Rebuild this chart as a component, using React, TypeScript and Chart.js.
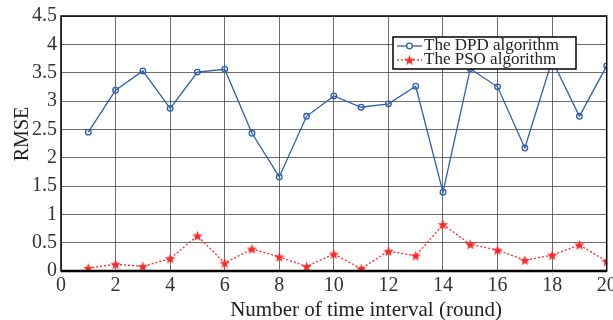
import React, { useEffect, useRef } from "react";
import { Chart, registerables } from "chart.js";

Chart.register(...registerables);

const rounds = [1, 2, 3, 4, 5, 6, 7, 8, 9, 10, 11, 12, 13, 14, 15, 16, 17, 18, 19, 20];
const dpdValues = [2.45, 3.19, 3.53, 2.87, 3.51, 3.56, 2.43, 1.66, 2.73, 3.09, 2.89, 2.95, 3.26, 1.39, 3.57, 3.25, 2.17, 3.72, 2.73, 3.62];
const psoValues = [0.05, 0.12, 0.08, 0.22, 0.62, 0.14, 0.39, 0.25, 0.08, 0.3, 0.04, 0.35, 0.27, 0.82, 0.47, 0.37, 0.19, 0.28, 0.46, 0.17];
const seriesNames = ["The DPD algorithm", "The PSO algorithm"];
const xTitle = "Number of time interval (round)";
const yTitle = "RMSE";

const BLUE = "#2c5fad";
const RED = "#ff2626";
const FONT = "'Liberation Serif', 'DejaVu Serif', serif";

function makeStar(size: number, color: string) {
  const c = document.createElement("canvas");
  c.width = size;
  c.height = size;
  const ctx = c.getContext("2d")!;
  const cx = size / 2, cy = size / 2 + 0.5;
  const R = size / 2, r = R * 0.42;
  ctx.beginPath();
  for (let i = 0; i < 10; i++) {
    const rad = i % 2 === 0 ? R : r;
    const a = -Math.PI / 2 + (i * Math.PI) / 5;
    const x = cx + rad * Math.cos(a);
    const y = cy + rad * Math.sin(a);
    if (i === 0) ctx.moveTo(x, y);
    else ctx.lineTo(x, y);
  }
  ctx.closePath();
  ctx.fillStyle = color;
  ctx.fill();
  return c;
}

export default function App() {
  const ref = useRef<HTMLCanvasElement>(null);
  useEffect(() => {
    document.body.style.margin = "0";
    const star = makeStar(11, RED);
    const frame = {
      id: "frame",
      afterDatasetsDraw(chart: any) {
        const { ctx, chartArea: a } = chart;
        ctx.save();
        ctx.strokeStyle = "#000";
        ctx.lineWidth = 1.5;
        ctx.strokeRect(a.left, a.top, a.right - a.left, a.bottom - a.top);
        ctx.lineWidth = 2.5;
        ctx.beginPath();
        ctx.moveTo(a.left, a.bottom);
        ctx.lineTo(a.right, a.bottom);
        ctx.stroke();
        // axis titles
        ctx.fillStyle = "#222";
        ctx.font = `21px ${FONT}`;
        ctx.textAlign = "center";
        ctx.textBaseline = "alphabetic";
        ctx.fillText(xTitle, a.left + 305, 316);
        ctx.save();
        ctx.translate(28, a.top + 118);
        ctx.rotate(-Math.PI / 2);
        ctx.font = `20px ${FONT}`;
        ctx.fillText(yTitle, 0, 0);
        ctx.restore();
        // legend
        ctx.textAlign = "left";
        const lx = a.left + 332, ly = a.top + 21, lw = 183, lh = 32;
        ctx.fillStyle = "#fff";
        ctx.fillRect(lx, ly, lw, lh);
        ctx.strokeStyle = "#000";
        ctx.lineWidth = 1.5;
        ctx.strokeRect(lx, ly, lw, lh);
        ctx.font = `17px ${FONT}`;
        ctx.textBaseline = "middle";
        const y1 = ly + 9, y2 = ly + 23;
        ctx.strokeStyle = BLUE;
        ctx.lineWidth = 1.3;
        ctx.beginPath();
        ctx.moveTo(lx + 4, y1);
        ctx.lineTo(lx + 29, y1);
        ctx.stroke();
        ctx.beginPath();
        ctx.arc(lx + 16.5, y1, 2.8, 0, Math.PI * 2);
        ctx.fillStyle = "#fff";
        ctx.fill();
        ctx.stroke();
        ctx.strokeStyle = RED;
        ctx.setLineDash([2, 2]);
        ctx.beginPath();
        ctx.moveTo(lx + 4, y2);
        ctx.lineTo(lx + 29, y2);
        ctx.stroke();
        ctx.setLineDash([]);
        ctx.drawImage(star, lx + 11, y2 - 5.5);
        ctx.fillStyle = "#222";
        ctx.fillText(seriesNames[0], lx + 31, y1);
        ctx.fillText(seriesNames[1], lx + 31, y2);
        ctx.restore();
      },
    };
    const chart = new Chart(ref.current!, {
      type: "line",
      data: {
        labels: rounds,
        datasets: [
          {
            label: seriesNames[0],
            data: rounds.map((x, i) => ({ x, y: dpdValues[i] })),
            borderColor: BLUE,
            borderWidth: 1.3,
            pointRadius: 2.8,
            pointBorderWidth: 1.3,
            pointBackgroundColor: "rgba(255,255,255,0)",
            pointBorderColor: BLUE,
            tension: 0,
          },
          {
            label: seriesNames[1],
            data: rounds.map((x, i) => ({ x, y: psoValues[i] })),
            borderColor: RED,
            borderWidth: 1.3,
            borderDash: [2, 2],
            pointStyle: star as any,
            pointRadius: 5,
            tension: 0,
          },
        ],
      },
      plugins: [frame],
      options: {
        animation: false,
        responsive: false,
        layout: { padding: { top: 16, right: 6, left: 0, bottom: 0 } },
        plugins: { legend: { display: false }, tooltip: { enabled: false } },
        scales: {
          x: {
            type: "linear",
            min: 0,
            max: 20,
            ticks: { stepSize: 2, color: "#333", font: { family: FONT, size: 20 }, padding: 3, maxRotation: 0 },
            grid: { color: "rgba(60,60,60,0.75)", lineWidth: 1, drawTicks: false },
            border: { display: false },
            title: { display: false },
            afterFit(s: any) {
              s.height = 49;
              s.paddingRight = 0;
              s.paddingLeft = 0;
            },
          },
          y: {
            min: 0,
            max: 4.5,
            ticks: {
              stepSize: 0.5,
              color: "#333",
              font: { family: FONT, size: 20 },
              padding: 4,
              callback: (v: any) => String(Math.round(v * 10) / 10),
            },
            grid: { color: "rgba(60,60,60,0.75)", lineWidth: 1, drawTicks: false },
            border: { display: false },
            title: { display: false },
            afterFit(s: any) {
              s.width = 61;
              s.paddingTop = 0;
              s.paddingBottom = 0;
            },
          },
        },
      },
    } as any);
    return () => chart.destroy();
  }, []);
  return (
    <div style={{ width: 613, height: 320, background: "#fff" }}>
      <canvas ref={ref} width={613} height={320} style={{ width: 613, height: 320 }} />
    </div>
  );
}
